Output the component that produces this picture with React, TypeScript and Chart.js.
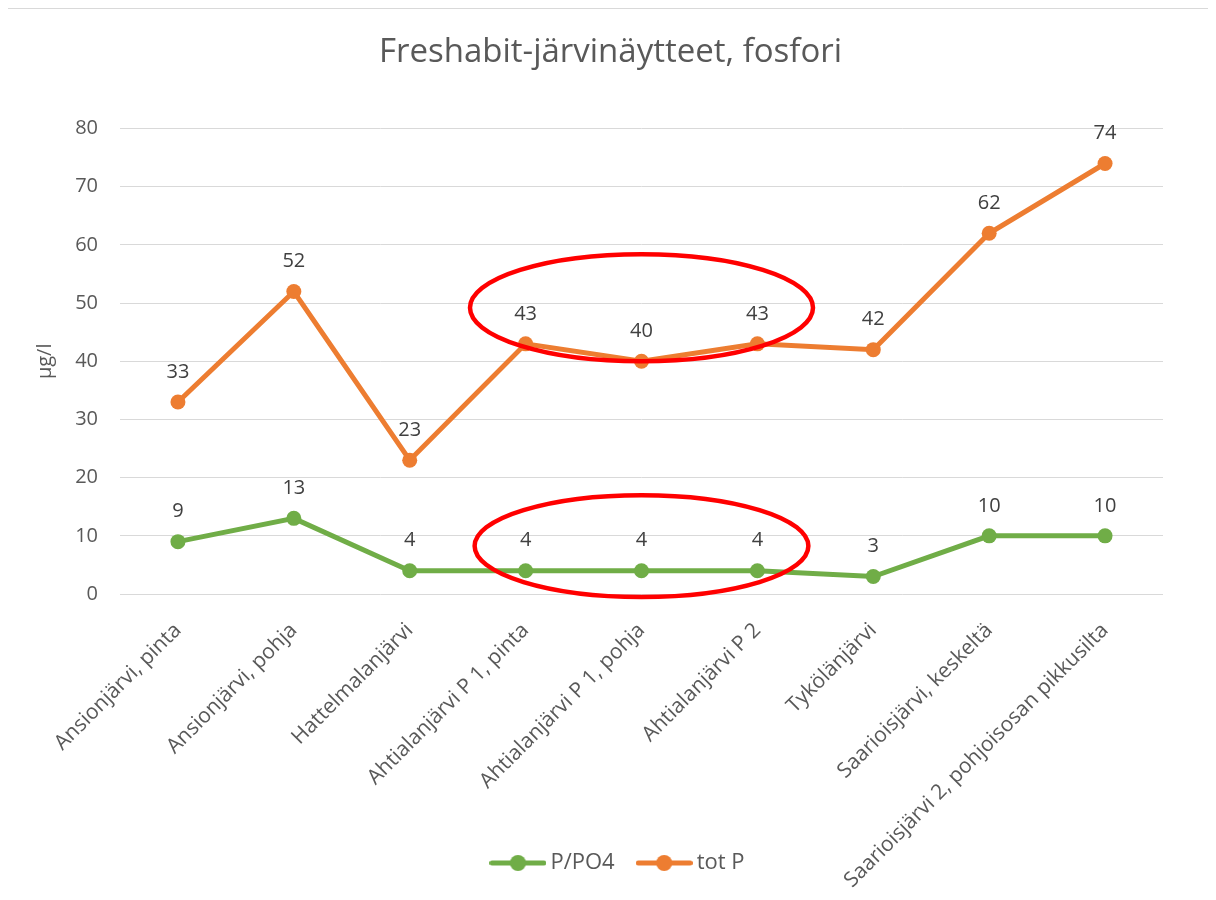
import React, { useEffect, useRef } from "react";
import { Chart, registerables } from "chart.js";

Chart.register(...registerables);

const chartTitle = "Freshabit-järvinäytteet, fosfori";
const yAxisTitle = "µg/l";
const categories = [
  "Ansionjärvi, pinta",
  "Ansionjärvi, pohja",
  "Hattelmalanjärvi",
  "Ahtialanjärvi P 1, pinta",
  "Ahtialanjärvi P 1, pohja",
  "Ahtialanjärvi P 2",
  "Tykölänjärvi",
  "Saarioisjärvi, keskeltä",
  "Saarioisjärvi 2, pohjoisosan pikkusilta",
];
const seriesNames = ["P/PO4", "tot P"];
const po4Values = [9, 13, 4, 4, 4, 4, 3, 10, 10];
const totPValues = [33, 52, 23, 43, 40, 43, 42, 62, 74];
const seriesColors = ["#70ad47", "#ed7d31"];
const yMin = 0;
const yMax = 80;
const yStep = 10;

// highlight ellipses, in data units (category index, value)
const highlightCenterIndex = [4, 4];
const highlightCenterValue = [49.2, 8.24];
const highlightHalfWidth = [1.48, 1.44];
const highlightHalfHeight = [9.2, 8.75];

const FONT = "'Open Sans', 'Noto Sans', sans-serif";

function makeLegendSymbol(color: string): HTMLCanvasElement {
  const c = document.createElement("canvas");
  c.width = 57;
  c.height = 18;
  const ctx = c.getContext("2d")!;
  ctx.strokeStyle = color;
  ctx.lineWidth = 5;
  ctx.lineCap = "round";
  ctx.beginPath();
  ctx.moveTo(2.5, 9);
  ctx.lineTo(54.5, 9);
  ctx.stroke();
  ctx.fillStyle = color;
  ctx.beginPath();
  ctx.arc(28.5, 9, 8, 0, Math.PI * 2);
  ctx.fill();
  return c;
}

const dataLabelPlugin = {
  id: "dataLabels",
  afterDatasetsDraw(chart: any) {
    const ctx = chart.ctx;
    ctx.save();
    ctx.font = `20px ${FONT}`;
    ctx.fillStyle = "#404040";
    ctx.textAlign = "center";
    ctx.textBaseline = "middle";
    chart.data.datasets.forEach((ds: any, i: number) => {
      const meta = chart.getDatasetMeta(i);
      meta.data.forEach((pt: any, j: number) => {
        ctx.fillText(String(ds.data[j]), pt.x, pt.y - 30);
      });
    });
    ctx.restore();
  },
};

const ellipsePlugin = {
  id: "highlightEllipses",
  afterDraw(chart: any) {
    const { ctx, scales } = chart;
    const xs = scales.x;
    const ys = scales.y;
    ctx.save();
    ctx.strokeStyle = "#ff0000";
    ctx.lineWidth = 4.5;
    highlightCenterIndex.forEach((ci, k) => {
      const cx = xs.getPixelForValue(ci);
      const cy = ys.getPixelForValue(highlightCenterValue[k]);
      const rx = Math.abs(xs.getPixelForValue(ci + highlightHalfWidth[k]) - cx);
      const ry = Math.abs(ys.getPixelForValue(highlightCenterValue[k] + highlightHalfHeight[k]) - cy);
      ctx.beginPath();
      ctx.ellipse(cx, cy, rx, ry, 0, 0, Math.PI * 2);
      ctx.stroke();
    });
    ctx.restore();
  },
};

// nudge the legend row slightly right, as in the original
const legendShiftPlugin = {
  id: "legendShift",
  afterLayout(chart: any) {
    if (chart.legend) {
      chart.legend.left += 10;
      chart.legend.right += 10;
    }
  },
};

export default function App() {
  const canvasRef = useRef<HTMLCanvasElement | null>(null);

  useEffect(() => {
    document.documentElement.style.overflow = "hidden";
    document.body.style.overflow = "hidden";
    const symbols = seriesColors.map((c) => makeLegendSymbol(c));
    const chart = new Chart(canvasRef.current!, {
      type: "line",
      data: {
        labels: categories,
        datasets: [
          {
            label: seriesNames[0],
            data: po4Values,
            borderColor: seriesColors[0],
            backgroundColor: seriesColors[0],
            borderWidth: 5,
            pointRadius: 7.5,
            pointBorderWidth: 0,
            pointBackgroundColor: seriesColors[0],
            tension: 0,
            yAxisID: "y",
          },
          {
            label: seriesNames[1],
            data: totPValues,
            borderColor: seriesColors[1],
            backgroundColor: seriesColors[1],
            borderWidth: 5,
            pointRadius: 7.5,
            pointBorderWidth: 0,
            pointBackgroundColor: seriesColors[1],
            tension: 0,
            yAxisID: "y",
          },
        ],
      },
      options: {
        animation: false,
        responsive: true,
        maintainAspectRatio: false,
        layout: { padding: { left: 0, right: 0, top: 0, bottom: 16 } },
        plugins: {
          title: {
            display: true,
            text: chartTitle,
            color: "#595959",
            font: { family: FONT, size: 33, weight: "normal" },
            padding: { top: 24, bottom: 56 },
          },
          legend: {
            display: true,
            position: "bottom",
            labels: {
              usePointStyle: true,
              pointStyleWidth: 43,
              padding: 28,
              color: "#595959",
              font: { family: FONT, size: 22 },
              generateLabels(chart: any) {
                const items = Chart.defaults.plugins.legend.labels.generateLabels(chart);
                return items.map((it: any, i: number) => ({ ...it, pointStyle: symbols[i] }));
              },
            },
          },
          tooltip: { enabled: false },
        },
        scales: {
          x: {
            type: "category",
            offset: true,
            grid: { display: false, drawTicks: false },
            border: { display: false },
            ticks: {
              autoSkip: false,
              maxRotation: 45,
              minRotation: 45,
              padding: 24,
              color: "#595959",
              font: { family: FONT, size: 21 },
            },
            afterFit(scale: any) {
              scale.height = 230;
              // let the long rotated labels run past the axis box, as in the original
              scale._computeLabelArea = () => undefined;
            },
          },
          y: {
            type: "linear",
            position: "left",
            min: yMin,
            max: yMax,
            ticks: {
              stepSize: yStep,
              padding: 22,
              color: "#595959",
              font: { family: FONT, size: 20 },
            },
            grid: { color: "#d9d9d9", lineWidth: 1, drawTicks: false },
            border: { display: false },
            title: {
              display: true,
              text: yAxisTitle,
              color: "#595959",
              font: { family: FONT, size: 20 },
              padding: { top: 25, bottom: 0 },
            },
            afterFit(scale: any) {
              scale.width = 112;
            },
          },
          yRight: {
            type: "linear",
            position: "right",
            display: true,
            ticks: { display: false },
            grid: { display: false, drawTicks: false },
            border: { display: false },
            afterFit(scale: any) {
              scale.width = 50;
            },
          },
        },
      } as any,
      plugins: [dataLabelPlugin, ellipsePlugin, legendShiftPlugin],
    });
    return () => chart.destroy();
  }, []);

  return (
    <div
      style={{
        width: 1207,
        height: 892,
        marginLeft: -1,
        marginBottom: -8,
        boxSizing: "border-box",
        border: "1px solid #d9d9d9",
        borderBottom: "none",
        background: "#ffffff",
        position: "relative",
      }}
    >
      <div style={{ position: "relative", width: 1205, height: 891 }}>
        <canvas ref={canvasRef} />
      </div>
    </div>
  );
}
